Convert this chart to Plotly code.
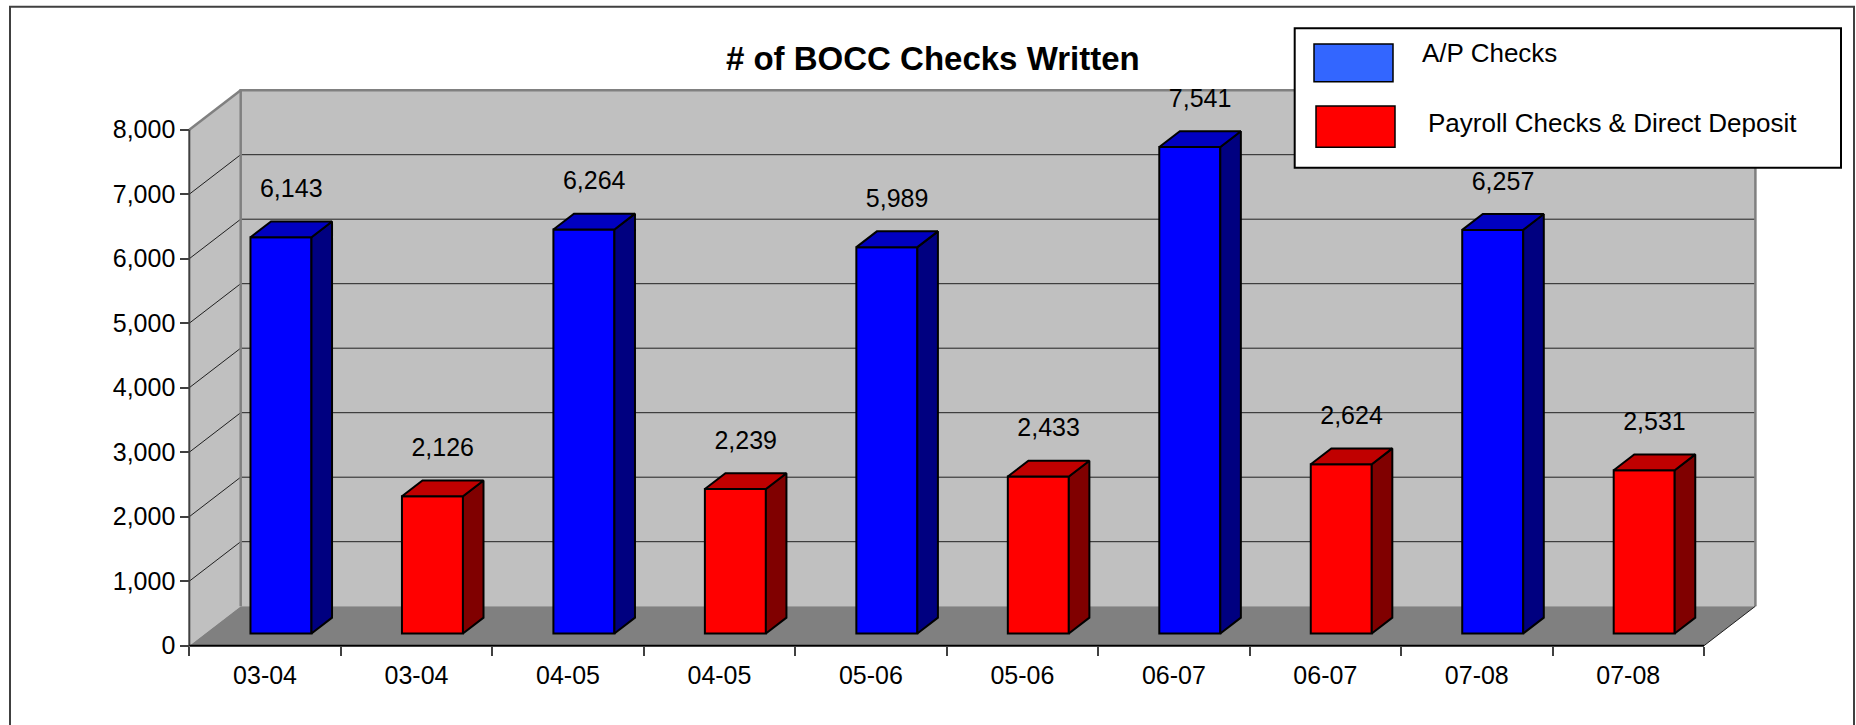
import plotly.graph_objects as go

# ---------------- data ----------------
periods = ["03-04", "04-05", "05-06", "06-07", "07-08"]
ap_checks = [6143, 6264, 5989, 7541, 6257]
payroll = [2126, 2239, 2433, 2624, 2531]
series_names = ["A/P Checks", "Payroll Checks & Direct Deposit"]
y_ticks = [0, 1000, 2000, 3000, 4000, 5000, 6000, 7000, 8000]
title_text = "# of BOCC Checks Written"

# category labels (each period appears twice: A/P, then payroll)
categories = []
for p in periods:
    categories += [p, p]
n_cat = len(categories)
ap_pos = [2 * i for i in range(len(periods))]
pay_pos = [2 * i + 1 for i in range(len(periods))]

# ---------------- geometry / style ----------------
W, H = 1856, 725
X0PX = 189.3          # pixel of the left edge of the category axis
UX = 151.47           # pixels per category
Y0PX = 645.7          # pixel of value 0
UY = 64.5 / 1000.0    # pixels per value unit
DEPTH_X = 51.4 / UX   # 3-D depth offset (x units)
DEPTH_Y = 39.5 / UY   # 3-D depth offset (value units)
BAR_FRONT, BAR_BACK = 0.31, 0.71
BAR_W = 61 / UX
YMAX = y_ticks[-1]

xrange = [-0.5 - X0PX / UX, -0.5 + (W - X0PX) / UX]
yrange = [-(H - Y0PX) / UY, Y0PX / UY]

FONT = "Liberation Sans"
BLUE = dict(front="#0000ff", side="#000080", top="#0000c0", legend="#3366ff")
RED = dict(front="#ff0000", side="#800000", top="#c00000", legend="#ff0000")

xl, xr = -0.5, n_cat - 0.5

fig = go.Figure()
shapes = []

# back wall
shapes.append(dict(type="rect", xref="x", yref="y", layer="below",
                   x0=xl + DEPTH_X, x1=xr + DEPTH_X, y0=DEPTH_Y, y1=YMAX + DEPTH_Y,
                   fillcolor="#c0c0c0", line=dict(width=0)))
# side wall
shapes.append(dict(type="path", xref="x", yref="y", layer="below",
                   path=f"M {xl},0 L {xl},{YMAX} L {xl+DEPTH_X},{YMAX+DEPTH_Y} L {xl+DEPTH_X},{DEPTH_Y} Z",
                   fillcolor="#c0c0c0", line=dict(width=0)))
# gridlines (back + side)
for t in y_ticks[1:-1]:
    shapes.append(dict(type="line", xref="x", yref="y", layer="below",
                       x0=xl + DEPTH_X, x1=xr + DEPTH_X, y0=t + DEPTH_Y, y1=t + DEPTH_Y,
                       line=dict(color="#202020", width=1)))
    shapes.append(dict(type="line", xref="x", yref="y", layer="below",
                       x0=xl, x1=xl + DEPTH_X, y0=t, y1=t + DEPTH_Y,
                       line=dict(color="#202020", width=1)))
# back wall edges (left, top, right)
shapes.append(dict(type="path", xref="x", yref="y", layer="below",
                   path=f"M {xl+DEPTH_X},{DEPTH_Y} L {xl+DEPTH_X},{YMAX+DEPTH_Y} L {xr+DEPTH_X},{YMAX+DEPTH_Y} L {xr+DEPTH_X},{DEPTH_Y}",
                   line=dict(color="#808080", width=2.5)))
# side wall top edge
shapes.append(dict(type="line", xref="x", yref="y", layer="below",
                   x0=xl, x1=xl + DEPTH_X, y0=YMAX, y1=YMAX + DEPTH_Y,
                   line=dict(color="#808080", width=2.5)))
# floor
shapes.append(dict(type="path", xref="x", yref="y", layer="below",
                   path=f"M {xl},0 L {xr},0 L {xr+DEPTH_X},{DEPTH_Y} L {xl+DEPTH_X},{DEPTH_Y} Z",
                   fillcolor="#808080", line=dict(width=0)))
# floor right edge
shapes.append(dict(type="line", xref="x", yref="y", layer="below",
                   x0=xr, x1=xr + DEPTH_X, y0=0, y1=DEPTH_Y,
                   line=dict(color="#202020", width=1)))
# axis lines
shapes.append(dict(type="line", xref="x", yref="y", layer="below",
                   x0=xl, x1=xl, y0=0, y1=YMAX, line=dict(color="#404040", width=2)))
shapes.append(dict(type="line", xref="x", yref="y", layer="below",
                   x0=xl, x1=xr, y0=0, y1=0, line=dict(color="#000000", width=2)))

# ---------------- bars ----------------
base = BAR_FRONT * DEPTH_Y
off = BAR_FRONT * DEPTH_X
bdx = (BAR_BACK - BAR_FRONT) * DEPTH_X
bdy = (BAR_BACK - BAR_FRONT) * DEPTH_Y


def add_series(pos, vals, col, name):
    xs = [p + off for p in pos]
    fig.add_trace(go.Bar(x=xs, y=vals, base=[base] * len(vals), width=BAR_W,
                         marker=dict(color=col["front"], line=dict(color="black", width=2)),
                         name=name, showlegend=False))
    for x, v in zip(xs, vals):
        x_l, x_r = x - BAR_W / 2, x + BAR_W / 2
        top = base + v
        # right side
        fig.add_trace(go.Scatter(
            x=[x_r, x_r + bdx, x_r + bdx, x_r, x_r],
            y=[base, base + bdy, top + bdy, top, base],
            mode="lines", fill="toself", fillcolor=col["side"],
            line=dict(color="black", width=2), hoverinfo="skip", showlegend=False))
        # top
        fig.add_trace(go.Scatter(
            x=[x_l, x_l + bdx, x_r + bdx, x_r, x_l],
            y=[top, top + bdy, top + bdy, top, top],
            mode="lines", fill="toself", fillcolor=col["top"],
            line=dict(color="black", width=2), hoverinfo="skip", showlegend=False))
    # value labels
    fig.add_trace(go.Scatter(
        x=[x + bdx / 2 for x in xs],
        y=[base + v + bdy + 30.5 / UY for v in vals],
        mode="text", text=[f"{v:,}" for v in vals], textposition="middle center",
        textfont=dict(family=FONT, size=25, color="black"),
        hoverinfo="skip", showlegend=False, cliponaxis=False))


add_series(ap_pos, ap_checks, BLUE, series_names[0])
add_series(pay_pos, payroll, RED, series_names[1])

# ---------------- legend (drawn) ----------------
shapes.append(dict(type="rect", xref="paper", yref="paper", layer="above",
                   x0=1294.7 / W, x1=1841 / W, y0=1 - 167.7 / H, y1=1 - 28.3 / H,
                   fillcolor="white", line=dict(color="black", width=2)))
legend_items = [(series_names[0], BLUE["legend"], 1314, 44, 81.7, 1419.6, 52.7),
                (series_names[1], RED["legend"], 1316, 106, 147.3, 1426, 123.3)]
annotations = []
for name, color, sx, sy0, sy1, tx, ty in legend_items:
    shapes.append(dict(type="rect", xref="paper", yref="paper", layer="above",
                       x0=sx / W, x1=(sx + 79) / W, y0=1 - sy1 / H, y1=1 - sy0 / H,
                       fillcolor=color, line=dict(color="black", width=1.5)))
    annotations.append(dict(xref="paper", yref="paper", x=tx / W, y=1 - ty / H,
                            xanchor="left", yanchor="middle", text=name, showarrow=False,
                            font=dict(family=FONT, size=26, color="black")))

# outer border
shapes.append(dict(type="rect", xref="paper", yref="paper", layer="above",
                   x0=10 / W, x1=1854 / W, y0=-0.05, y1=1 - 6.7 / H,
                   line=dict(color="#404040", width=2)))

fig.update_layout(
    width=W, height=H,
    margin=dict(l=0, r=0, t=0, b=0),
    paper_bgcolor="white", plot_bgcolor="white",
    showlegend=False,
    shapes=shapes, annotations=annotations,
    title=dict(text=f"<b>{title_text}</b>", x=932.8 / W, y=1 - 58 / H,
               xanchor="center", yanchor="middle",
               font=dict(family=FONT, size=33, color="black")),
    xaxis=dict(domain=[0, 1], range=xrange, anchor="free", position=(H - Y0PX) / H,
               tickmode="array", tickvals=list(range(n_cat)), ticktext=categories,
               ticks="", showgrid=False, zeroline=False, showline=False,
               tickfont=dict(family=FONT, size=25, color="black"),
               ticklabelstandoff=12,
               minor=dict(tickmode="array", tickvals=[i - 0.5 for i in range(n_cat + 1)],
                          ticks="outside", ticklen=9, tickwidth=1.5, tickcolor="#404040",
                          showgrid=False)),
    yaxis=dict(domain=[0, 1], range=yrange, anchor="free", position=X0PX / W,
               tickmode="array", tickvals=y_ticks, tickformat=",d",
               ticks="outside", ticklen=9, tickwidth=2, tickcolor="#404040",
               showgrid=False, zeroline=False, showline=False,
               tickfont=dict(family=FONT, size=25, color="black")),
)

fig.write_html("out.html", config={"displayModeBar": False},
               post_script="document.body.style.margin='0px';document.body.style.overflow='hidden';")
